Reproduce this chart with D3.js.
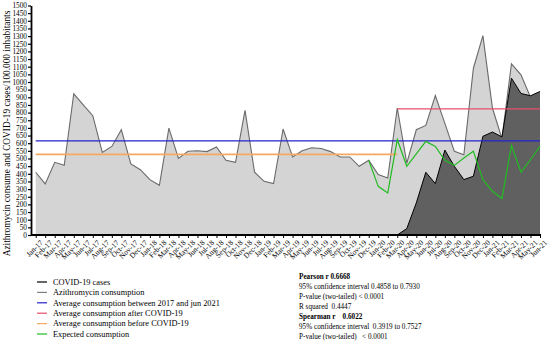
<!DOCTYPE html>
<html>
<head>
<meta charset="utf-8">
<script src="https://cdnjs.cloudflare.com/ajax/libs/d3/7.8.5/d3.min.js"></script>
<style>
  body { margin: 0; background: #fff; }
  svg { display: block; }
  svg text { font-family: "Liberation Serif", "Times New Roman", serif; }
</style>
</head>
<body>
<div id="chart"></div>
<script>
// months Jan-17 .. Jun-21
var monthNames = ["Jan","Feb","Mar","Apr","May","Jun","Jul","Aug","Sep","Oct","Nov","Dec"];
var months = [];
for (var yr = 17; yr <= 21; yr++) {
    for (var m = 0; m < 12; m++) {
        if (yr === 21 && m > 5) break;
        months.push(monthNames[m] + "-" + yr);
    }
}

// azithromycin consumption, Jan-17 .. Jun-21
var azithro = [
    410, 334, 475, 455, 923, 850, 780, 540, 579, 688, 465, 427,
    362, 325, 699, 501, 547, 551, 545, 575, 488, 475, 814, 410,
    351, 336, 693, 510, 550, 570, 565, 545, 510, 510, 449, 488,
    395, 373, 830, 470, 688, 716, 912, 730, 547, 525, 1090, 1303,
    830, 630, 1119, 1047, 900, 930
];

// covid cases, Mar-20 .. Jun-21
var covidStart = "Mar-20";
var covid = [0, 42, 210, 410, 336, 555, 449, 362, 384, 645, 673, 641, 1025, 925, 910, 938];

// expected consumption, Dec-19 .. Jun-21
var expectedStart = "Dec-19";
var expected = [488, 318, 275, 623, 449, 530, 612, 579, 488, 455, 503, 547, 362, 286, 238, 586, 410, 492, 579];

// averages
var avgAll = 615;     // Jan-17 .. Jun-21
var avgBefore = 527;  // Jan-17 .. Mar-20
var avgAfter = 825;   // Mar-20 .. Jun-21

var legendItems = [
    {label: "COVID-19 cases", color: "#000000"},
    {label: "Azithromycin consumption", color: "#808080"},
    {label: "Average consumption between 2017 and jun 2021", color: "#2222cc"},
    {label: "Average consumption after COVID-19", color: "#e8506a"},
    {label: "Average consumption before COVID-19", color: "#f5a860"},
    {label: "Expected consumption", color: "#22bb22"}
];

var stats = [
    {text: "Pearson r 0.6668", bold: true},
    {text: "95% confidence interval 0.4858 to 0.7930", bold: false},
    {text: "P-value (two-tailed) < 0.0001", bold: false},
    {text: "R squared  0.4447", bold: false},
    {text: "Spearman r    0.6022", bold: true},
    {text: "95% confidence interval  0.3919 to 0.7527", bold: false},
    {text: "P-value (two-tailed)   < 0.0001", bold: false}
];

var W = 550, H = 343;
var svg = d3.select("#chart").append("svg").attr("width", W).attr("height", H);

var x = d3.scalePoint().domain(months).range([35.7, 540]);
var y = d3.scaleLinear().domain([0, 1500]).range([235, 5.5]);

var azData = months.map(function (mo, i) { return {m: mo, v: azithro[i]}; });
var ci = months.indexOf(covidStart);
var covData = covid.map(function (v, i) { return {m: months[ci + i], v: v}; });
var ei = months.indexOf(expectedStart);
var expData = expected.map(function (v, i) { return {m: months[ei + i], v: v}; });

var area = d3.area().x(function (d) { return x(d.m); }).y0(y(0)).y1(function (d) { return y(d.v); });
var line = d3.line().x(function (d) { return x(d.m); }).y(function (d) { return y(d.v); });

// azithromycin area
svg.append("path").datum(azData).attr("d", area).attr("fill", "#d4d4d4");
svg.append("path").datum(azData).attr("d", line).attr("fill", "none")
    .attr("stroke", "#6a6a6a").attr("stroke-width", 1.1);

// covid area
svg.append("path").datum(covData).attr("d", area).attr("fill", "#606060");
svg.append("path").datum(covData).attr("d", line).attr("fill", "none")
    .attr("stroke", "#000").attr("stroke-width", 1);

// averages
function hline(v, from, to, color, w) {
    svg.append("line")
        .attr("x1", x(from)).attr("x2", x(to))
        .attr("y1", y(v)).attr("y2", y(v))
        .attr("stroke", color).attr("stroke-width", w);
}
hline(avgBefore, months[0], covidStart, "#f5a860", 1.8);
hline(avgAfter, covidStart, months[months.length - 1], "#e8506a", 1.3);
hline(avgAll, months[0], months[months.length - 1], "#2222cc", 1.3);

// expected
svg.append("path").datum(expData).attr("d", line).attr("fill", "none")
    .attr("stroke", "#22bb22").attr("stroke-width", 1.2);

// y axis
var yAxis = svg.append("g").attr("transform", "translate(31,0)")
    .call(d3.axisLeft(y).tickValues(d3.range(0, 1501, 50)).tickFormat(d3.format("d"))
        .tickSize(3).tickPadding(1).tickSizeOuter(0));
yAxis.select(".domain").attr("stroke-width", 1.8);
yAxis.selectAll(".tick line").attr("stroke-width", 1.2);
yAxis.selectAll("text").attr("font-size", 7.3).attr("fill", "#000");

// x axis
var xAxis = svg.append("g").attr("transform", "translate(0,235)")
    .call(d3.axisBottom(x).tickSize(3).tickPadding(2).tickSizeOuter(0));
xAxis.select(".domain").remove();
xAxis.append("line").attr("x1", 31).attr("x2", 541).attr("stroke", "#000").attr("stroke-width", 1.8);
xAxis.selectAll(".tick line").attr("stroke-width", 1);
xAxis.selectAll("text")
    .attr("font-size", 7.5).attr("fill", "#000")
    .attr("text-anchor", "end")
    .attr("dy", "0.3em")
    .attr("transform", "translate(2,3) rotate(-45)");

// shrink/grow a font so a text gets the width it has in the picture
function fitFont(sel, size, target) {
    sel.attr("font-size", size);
    var w = sel.node().getComputedTextLength();
    return size * target / w;
}

// y title
var title = svg.append("text")
    .attr("transform", "translate(10,133.5) rotate(-90)")
    .attr("text-anchor", "middle")
    .text("Azithromycin consume and COVID-19 cases/100.000 inhabitants");
title.attr("font-size", fitFont(title, 9, 246));

// legend
var lg = svg.append("g");
var legTexts = legendItems.map(function (d, i) {
    var yy = 282 + i * 10.4;
    lg.append("line").attr("x1", 37).attr("x2", 47).attr("y1", yy).attr("y2", yy)
        .attr("stroke", d.color).attr("stroke-width", 1.2);
    return lg.append("text").attr("x", 53).attr("y", yy).attr("dy", "0.33em")
        .attr("font-size", 8.3).text(d.label);
});
var legSize = fitFont(legTexts[2], 8.3, 167);
legTexts.forEach(function (t) { t.attr("font-size", legSize); });

// stats
var st = svg.append("g");
var statTexts = stats.map(function (d, i) {
    return st.append("text").attr("x", 299).attr("y", 277 + i * 10).attr("dy", "0.33em")
        .attr("font-size", 7.5).attr("font-weight", d.bold ? "bold" : "normal")
        .attr("xml:space", "preserve").style("white-space", "pre")
        .text(d.text);
});
var statSize = fitFont(statTexts[1], 7.5, 121);
statTexts.forEach(function (t) { t.attr("font-size", statSize); });
</script>
</body>
</html>
